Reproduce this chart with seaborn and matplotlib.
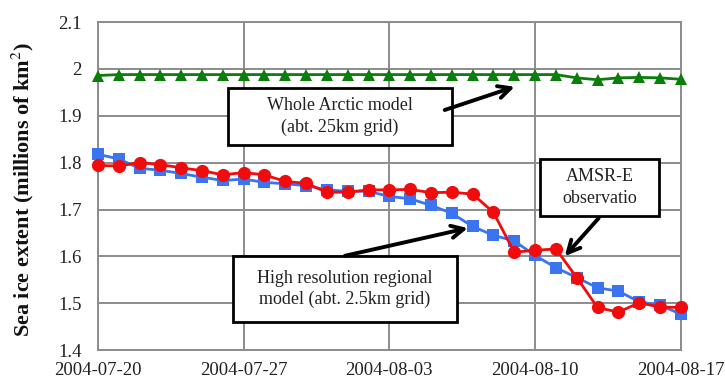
import pandas as pd
import seaborn as sns
import matplotlib.pyplot as plt
from matplotlib.patches import Rectangle

# daily values 2004-07-20 .. 2004-08-17
dates = pd.date_range('2004-07-20', '2004-08-17', freq='D')

arctic = [1.986, 1.988, 1.988, 1.988, 1.988, 1.988, 1.988, 1.988, 1.988, 1.988,
          1.988, 1.988, 1.988, 1.988, 1.988, 1.988, 1.988, 1.988, 1.988, 1.988,
          1.988, 1.988, 1.988, 1.981, 1.977, 1.981, 1.982, 1.981, 1.978]

regional = [1.818, 1.808, 1.788, 1.784, 1.777, 1.769, 1.762, 1.765, 1.758, 1.755,
            1.751, 1.742, 1.739, 1.739, 1.728, 1.723, 1.709, 1.692, 1.664, 1.645,
            1.633, 1.602, 1.576, 1.555, 1.533, 1.526, 1.503, 1.496, 1.477]

amsr = [1.794, 1.793, 1.800, 1.796, 1.789, 1.783, 1.774, 1.779, 1.774, 1.760,
        1.756, 1.737, 1.737, 1.742, 1.742, 1.743, 1.736, 1.737, 1.733, 1.694,
        1.609, 1.613, 1.616, 1.555, 1.491, 1.481, 1.501, 1.492, 1.491]

tick_dates = ['2004-07-20', '2004-07-27', '2004-08-03', '2004-08-10', '2004-08-17']
y_ticks = [1.4, 1.5, 1.6, 1.7, 1.8, 1.9, 2.0, 2.1]

df = pd.DataFrame({'Data': dates, 'arctic': arctic, 'regional': regional, 'amsr': amsr})

sns.set_style('white')
plt.rcParams['font.family'] = ['Liberation Serif', 'DejaVu Serif']
plt.rcParams['mathtext.fontset'] = 'stix'

fig, ax = plt.subplots(figsize=(7.25, 3.81), dpi=100)
fig.subplots_adjust(left=0.135, right=0.939, bottom=0.081, top=0.942)

grid_col = '#8c8c8c'
sns.lineplot(x='Data', y='arctic', data=df, ax=ax, color='#0a7d0a', marker='^',
             markersize=8, markeredgewidth=0, linewidth=2, clip_on=False, zorder=4)
sns.lineplot(x='Data', y='regional', data=df, ax=ax, color='#3a74f0', marker='s',
             markersize=8, markeredgewidth=0, linewidth=2, clip_on=False, zorder=4)
sns.lineplot(x='Data', y='amsr', data=df, ax=ax, color='#f00c0c', marker='o',
             markersize=9.5, markeredgewidth=0, linewidth=2, clip_on=False, zorder=5)

ax.set_xlim(dates[0], dates[-1])
ax.set_ylim(1.4, 2.1)
ax.set_xticks(pd.to_datetime(tick_dates))
ax.set_xticklabels(tick_dates)
ax.set_xticks(dates, minor=True)
ax.set_yticks(y_ticks)
ax.set_yticklabels([f'{v:g}' for v in y_ticks])
ax.grid(True, which='major', color=grid_col, linewidth=1.4)
ax.set_axisbelow(True)
for s in ax.spines.values():
    s.set_color(grid_col)
    s.set_linewidth(1.4)
ax.tick_params(axis='both', which='major', direction='inout', length=7, width=1.4,
               color=grid_col, labelsize=13.5, labelcolor='#222222')
ax.tick_params(axis='x', which='minor', direction='inout', length=6, width=1.2, color=grid_col)
ax.tick_params(axis='x', which='major', pad=5)
ax.tick_params(axis='y', which='major', pad=8)

ax.set_xlabel('')
ax.set_ylabel('Sea ice extent (millions of km$^2$)', fontsize=16, fontweight='bold', color='#111111')
ax.yaxis.set_label_coords(-0.107, 0.49)

# text boxes (axes fractions)
boxes = [
    ((0.223, 0.625), 0.384, 0.175, 'Whole Arctic model\n(abt. 25km grid)'),
    ((0.2316, 0.0854), 0.3844, 0.202, 'High resolution regional\nmodel (abt. 2.5km grid)'),
    ((0.759, 0.4085), 0.203, 0.1735, 'AMSR-E\nobservatio'),
]
for (x0, y0), w, h, txt in boxes:
    ax.add_patch(Rectangle((x0, y0), w, h, transform=ax.transAxes, facecolor='white',
                           edgecolor='black', linewidth=2, zorder=6, clip_on=False))
    ax.text(x0 + w / 2, y0 + h / 2, txt, transform=ax.transAxes, ha='center', va='center',
            fontsize=13, color='#222222', linespacing=1.35, zorder=7)

arrows = [((0.595, 0.732), (0.715, 0.803)),
          ((0.4237, 0.2875), (0.6346, 0.372)),
          ((0.859, 0.402), (0.801, 0.2866))]
for start, end in arrows:
    ax.annotate('', xy=end, xytext=start, xycoords='axes fraction', textcoords='axes fraction',
                arrowprops=dict(arrowstyle='->', color='black', lw=2.8, mutation_scale=22,
                                shrinkA=0, shrinkB=0), zorder=8)

plt.savefig('out.png', dpi=100)
